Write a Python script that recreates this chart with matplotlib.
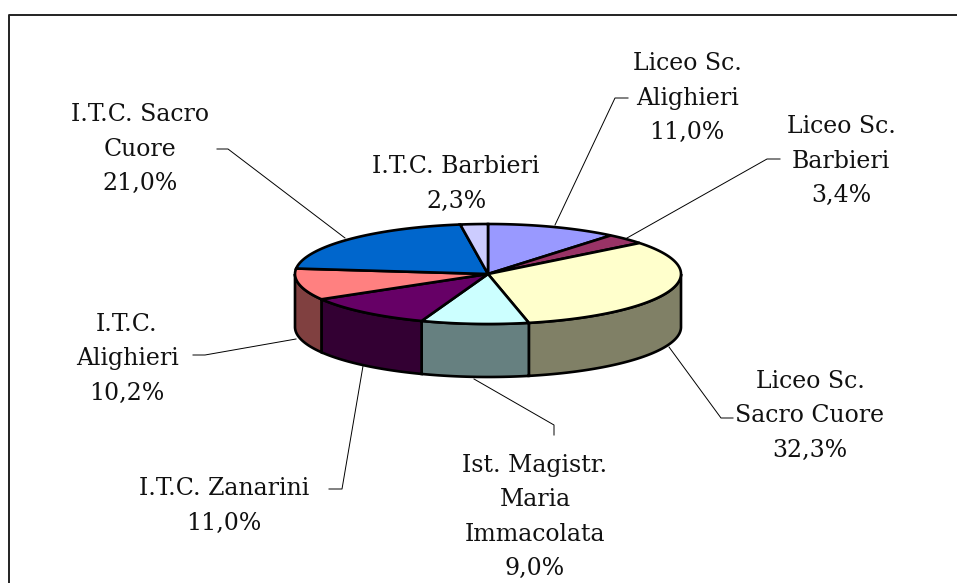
import matplotlib

matplotlib.use("Agg")
import matplotlib.pyplot as plt
import numpy as np
from matplotlib.patches import Polygon

# slices, clockwise from 12 o'clock
labels = [
    "Liceo Sc.\nAlighieri",
    "Liceo Sc.\nBarbieri",
    "Liceo Sc.\nSacro Cuore",
    "Ist. Magistr.\nMaria\nImmacolata",
    "I.T.C. Zanarini",
    "I.T.C.\nAlighieri",
    "I.T.C. Sacro\nCuore",
    "I.T.C. Barbieri",
]
values = [11.0, 3.4, 32.3, 9.0, 11.0, 10.2, 21.0, 2.3]
top_colors = ["#9999FF", "#993366", "#FFFFCC", "#CCFFFF", "#660066", "#FF8080", "#0066CC", "#CCCCFF"]
side_colors = ["#4D4D80", "#4D1A33", "#808066", "#668080", "#330033", "#804040", "#003366", "#666680"]

# label centres and leader lines, in pixels
label_pos = [(687, 98), (841, 161), (810, 416), (535, 517), (224, 506), (127, 359), (140, 149), (456, 184)]
leaders = [
    [(555, 225), (615, 98), (628, 98)],
    [(627, 238), (767, 159), (780, 159)],
    [(669, 347), (721, 418), (733, 418)],
    [(474, 379), (554, 425), (554, 435)],
    [(363, 366), (342, 489), (329, 489)],
    [(296, 339), (205, 355), (193, 355)],
    [(345, 238), (228, 149), (217, 149)],
]

CX, CY, RX, RY, DEPTH = 488, 274, 193, 50, 53


def rim(a0, a1):
    t = np.radians(np.linspace(a0, a1, max(int(abs(a1 - a0) * 2), 2)))
    return np.column_stack([CX + RX * np.sin(t), CY - RY * np.cos(t)])


plt.rcParams["font.family"] = ["DejaVu Serif"]
fig = plt.figure(figsize=(9.57, 5.83), dpi=100)
ax = fig.add_axes([0, 0, 1, 1])
ax.set_xlim(0, 957)
ax.set_ylim(583, 0)
ax.axis("off")

# chart frame runs off the right and bottom of the image
ax.plot([9, 9, 957], [583, 15, 15], color="#222222", lw=1.4)

edges = np.cumsum([0] + values) / sum(values) * 360

# side wall, only the part of each slice facing the viewer
for i in range(len(values)):
    a0, a1 = max(edges[i], 90), min(edges[i + 1], 270)
    if a0 >= a1:
        continue
    arc = rim(a0, a1)
    wall = np.vstack([arc, arc[::-1] + [0, DEPTH]])
    ax.add_patch(Polygon(wall, closed=True, fc=side_colors[i], ec="black", lw=1.9, zorder=2))

# top face
for i in range(len(values)):
    pts = np.vstack([[CX, CY], rim(edges[i], edges[i + 1])])
    ax.add_patch(Polygon(pts, closed=True, fc=top_colors[i], ec="black", lw=1.9, zorder=3))

for pts in leaders:
    xs, ys = zip(*pts)
    ax.plot(xs, ys, color="black", lw=0.7, zorder=1)

for name, val, (x, y) in zip(labels, values, label_pos):
    text = name + "\n" + f"{val:.1f}".replace(".", ",") + "%"
    ax.text(x, y, text, ha="center", va="center", fontsize=17, linespacing=1.62, color="#111111", zorder=5)

fig.savefig("out.png", dpi=100)
plt.close(fig)
